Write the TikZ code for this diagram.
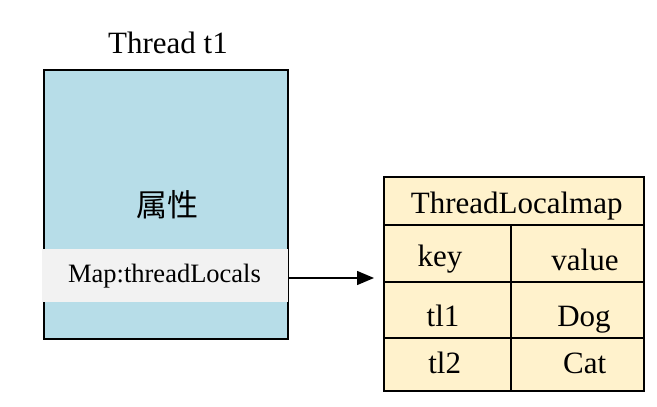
\documentclass[tikz,border=0pt]{standalone}
\usepackage{fontspec}
\setmainfont{Liberation Serif}
\newfontfamily\cjk{Noto Sans CJK SC}
\usetikzlibrary{arrows.meta}
\definecolor{tblue}{HTML}{B7DDE8}
\definecolor{tgrey}{HTML}{F2F2F2}
\definecolor{tcream}{HTML}{FFF2CC}
\begin{document}
\begin{tikzpicture}[x=1pt,y=-1pt,
  bigtext/.style={font=\fontsize{31}{33}\selectfont, inner sep=0pt, anchor=base},
  cell/.style={draw, line width=1.7pt, fill=tcream, inner sep=0pt, anchor=north west},
  conn/.style={line width=1.4pt, -{Triangle[length=17pt,width=14pt]}}]
\useasboundingbox (0,0) rectangle (657,407);
% thread box
\node[draw, line width=1.7pt, fill=tblue, minimum width=244pt, minimum height=269pt, inner sep=0pt, anchor=north west] (thread) at (43,69) {};
\node[fill=tgrey, minimum width=246pt, minimum height=53pt, inner sep=0pt, anchor=north west] (map) at (42,249) {};
\node[font=\fontsize{26.5}{28}\selectfont, inner sep=0pt, anchor=base] (maptext) at (164.5,282.7) {Map:threadLocals};
\node[bigtext] (title) at (168,53.3) {Thread t1};
\node[font=\cjk\fontsize{31}{33}\selectfont, inner sep=0pt] (attr) at (167.5,205) {属性};
% table
\node[cell, minimum width=260pt, minimum height=48pt] (head) at (383,176) {};
\node[cell, minimum width=127pt, minimum height=57pt] (k) at (383,224) {};
\node[cell, minimum width=133pt, minimum height=57pt] (v) at (510,224) {};
\node[cell, minimum width=127pt, minimum height=56pt] (k1) at (383,281) {};
\node[cell, minimum width=133pt, minimum height=56pt] (v1) at (510,281) {};
\node[cell, minimum width=127pt, minimum height=53pt] (k2) at (383,337) {};
\node[cell, minimum width=133pt, minimum height=53pt] (v2) at (510,337) {};
\node[bigtext] (headtext) at (516.7,213.3) {ThreadLocalmap};
\node[bigtext] (ktext) at (440,266) {key};
\node[bigtext] (vtext) at (585,270) {value};
\node[bigtext] (k1text) at (443,326.7) {tl1};
\node[bigtext] (v1text) at (584,326.7) {Dog};
\node[bigtext] (k2text) at (444.7,373.3) {tl2};
\node[bigtext] (v2text) at (584.7,373.3) {Cat};
% arrow
\coordinate (tip) at (374,278);
\draw[conn] (map.east |- tip) -- (tip);
\end{tikzpicture}
\end{document}
